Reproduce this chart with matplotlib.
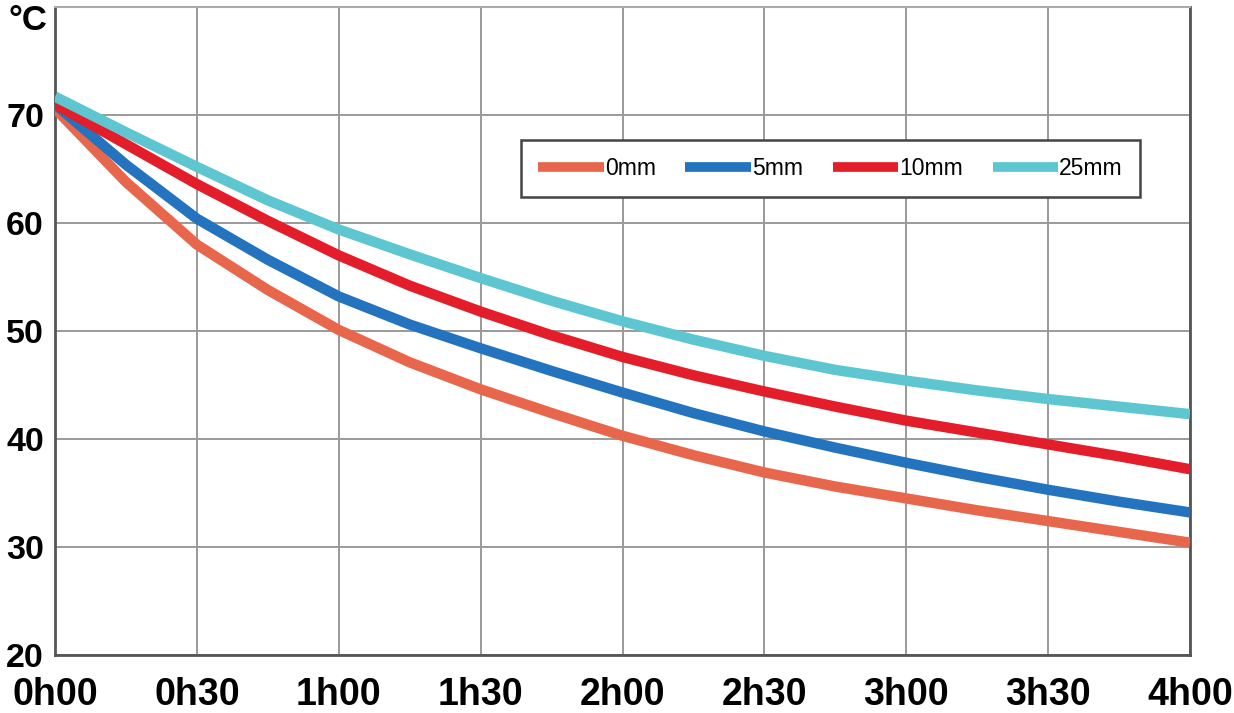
import matplotlib
matplotlib.use("Agg")
import matplotlib.pyplot as plt

minutes = [0, 15, 30, 45, 60, 75, 90, 105, 120, 135, 150, 165, 180, 195, 210, 225, 240]
tick_minutes = [0, 30, 60, 90, 120, 150, 180, 210, 240]
tick_labels = ["0h00", "0h30", "1h00", "1h30", "2h00", "2h30", "3h00", "3h30", "4h00"]
y_ticks = [20, 30, 40, 50, 60, 70, 80]
y_labels = ["20", "30", "40", "50", "60", "70", ""]

series_names = ["0mm", "5mm", "10mm", "25mm"]
t_0mm = [70.6, 63.8, 58.0, 53.8, 50.1, 47.1, 44.6, 42.4, 40.3, 38.5, 36.9, 35.6, 34.5, 33.4, 32.4, 31.4, 30.4]
t_5mm = [71.0, 65.4, 60.4, 56.6, 53.2, 50.6, 48.4, 46.3, 44.3, 42.4, 40.7, 39.2, 37.8, 36.5, 35.3, 34.2, 33.2]
t_10mm = [71.0, 67.3, 63.6, 60.2, 57.0, 54.2, 51.8, 49.6, 47.6, 45.9, 44.4, 43.0, 41.7, 40.6, 39.5, 38.4, 37.2]
t_25mm = [71.7, 68.4, 65.2, 62.1, 59.4, 57.1, 54.9, 52.8, 50.9, 49.2, 47.7, 46.4, 45.4, 44.5, 43.7, 43.0, 42.3]
colors = ["#E8674C", "#2473BE", "#E31E2A", "#5EC6D0"]

fig = plt.figure(figsize=(12.34, 7.13), dpi=100)
ax = fig.add_axes([55 / 1234, 1 - 655 / 713, (1190 - 55) / 1234, (655 - 7) / 713])

for vals, name, c in zip([t_0mm, t_5mm, t_10mm, t_25mm], series_names, colors):
    ax.plot(minutes, vals, color=c, lw=7.5, label=name, solid_capstyle="butt",
            solid_joinstyle="round", zorder=3)

ax.set_xlim(0, 240)
ax.set_ylim(20, 80)
ax.set_xticks(tick_minutes)
ax.set_xticklabels(tick_labels)
ax.set_yticks(y_ticks)
ax.set_yticklabels(y_labels)
ax.grid(True, color="#9a9a9a", lw=1.4, zorder=0)
ax.tick_params(axis="both", length=0)
ax.tick_params(axis="x", pad=16)
ax.tick_params(axis="y", pad=8)
for lab in ax.get_xticklabels():
    lab.set_fontfamily("Liberation Sans")
    lab.set_fontweight("bold")
    lab.set_fontsize(27)
for lab in ax.get_yticklabels():
    lab.set_fontfamily("Liberation Sans")
    lab.set_fontweight("bold")
    lab.set_fontsize(24.5)

for s in ["left", "bottom", "right"]:
    ax.spines[s].set_color("#555555")
    ax.spines[s].set_linewidth(2)
ax.spines["top"].set_color("#aaaaaa")
ax.spines["top"].set_linewidth(1.5)

fig.text(8 / 1234, 1 - 4 / 713, "°C", ha="left", va="top", fontsize=25,
         fontweight="bold", family="Liberation Sans")

leg = ax.legend(loc="upper left", bbox_to_anchor=((521 - 55) / 1135, (655 - 140) / 648),
                ncol=4, frameon=True, fancybox=False,
                handlelength=2.85, handletextpad=0.05, columnspacing=1.3,
                borderpad=0.75, borderaxespad=0, prop={"family": "Liberation Sans", "size": 16.5})
leg.get_frame().set_edgecolor("#444444")
leg.get_frame().set_linewidth(1.8)
leg.get_frame().set_facecolor("white")
leg.get_frame().set_alpha(1)
for h in leg.get_lines():
    h.set_linewidth(7)

fig.savefig("out.png", dpi=100, facecolor="white")
